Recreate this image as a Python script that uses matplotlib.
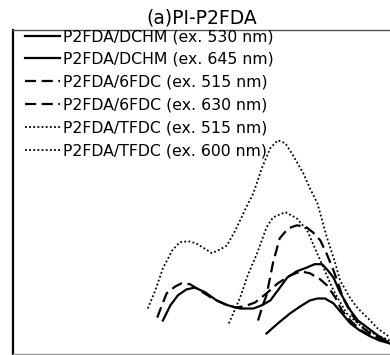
import matplotlib
matplotlib.use("Agg")
import matplotlib.pyplot as plt

plt.rcParams['font.family'] = ['DejaVu Sans']

title = "(a)PI-P2FDA"
labels = ["P2FDA/DCHM (ex. 530 nm)", "P2FDA/DCHM (ex. 645 nm)",
          "P2FDA/6FDC (ex. 515 nm)", "P2FDA/6FDC (ex. 630 nm)",
          "P2FDA/TFDC (ex. 515 nm)", "P2FDA/TFDC (ex. 600 nm)"]

# wavelength (nm) / relative intensity (a.u.)
dchm530_x = [559, 567, 575, 584, 593, 604, 616, 628, 641, 655, 664, 673, 681, 691, 701, 712,
             720, 728, 734, 740, 747, 758, 766, 776, 787, 800]
dchm530_y = [0.102, 0.149, 0.180, 0.198, 0.204, 0.189, 0.164, 0.149, 0.139, 0.139, 0.149, 0.164,
             0.195, 0.235, 0.254, 0.266, 0.276, 0.276, 0.257, 0.235, 0.189, 0.133, 0.102, 0.080,
             0.056, 0.031]

dchm645_x = [669, 681, 694, 705, 715, 723, 731, 740, 749, 758, 768, 779, 789, 800]
dchm645_y = [0.062, 0.093, 0.124, 0.146, 0.164, 0.170, 0.170, 0.155, 0.124, 0.093, 0.071, 0.053,
             0.040, 0.031]

f6_515_x = [553, 558, 563, 572, 579, 588, 598, 612, 625, 636, 646, 657, 669, 681, 694, 705, 715,
            726, 733, 742, 749, 758, 768, 779, 789, 800]
f6_515_y = [0.111, 0.149, 0.186, 0.207, 0.217, 0.214, 0.195, 0.170, 0.152, 0.142, 0.146, 0.158,
            0.186, 0.217, 0.241, 0.254, 0.248, 0.229, 0.211, 0.173, 0.133, 0.102, 0.074, 0.056,
            0.043, 0.034]

f6_630_x = [660, 665, 669, 676, 683, 692, 701, 710, 718, 726, 733, 740, 745, 750, 758, 768, 779,
            789, 800]
f6_630_y = [0.102, 0.149, 0.180, 0.282, 0.356, 0.387, 0.396, 0.393, 0.375, 0.350, 0.307, 0.257,
            0.217, 0.173, 0.127, 0.087, 0.062, 0.046, 0.037]

tf_515_x = [543, 551, 559, 569, 577, 586, 594, 603, 611, 620, 627, 636, 646, 655, 664, 673, 681,
            689, 697, 708, 715, 723, 733, 741, 747, 758, 766, 776, 787, 800]
tf_515_y = [0.139, 0.195, 0.263, 0.319, 0.344, 0.347, 0.341, 0.325, 0.310, 0.322, 0.334, 0.381,
            0.443, 0.495, 0.573, 0.635, 0.659, 0.650, 0.613, 0.557, 0.511, 0.464, 0.359, 0.288,
            0.226, 0.170, 0.139, 0.111, 0.077, 0.050]

tf_600_x = [629, 641, 649, 659, 669, 676, 689, 701, 712, 726, 740, 754, 766, 776, 787, 800]
tf_600_y = [0.093, 0.173, 0.241, 0.310, 0.390, 0.421, 0.437, 0.418, 0.381, 0.288, 0.195, 0.124,
            0.093, 0.071, 0.056, 0.040]

fig = plt.figure(figsize=(3.9, 3.55), dpi=100)
ax = fig.add_axes([13/390, 1.5/355, 1 - 13/390, (353.5 - 30)/355])

solid = dict(color='black', lw=1.6, linestyle='-')
dashed = dict(color='black', lw=1.6, linestyle=(0, (5, 2.5)))
dotted = dict(color='black', lw=1.3, linestyle=(0, (1, 1.3)))

ax.plot(dchm530_x, dchm530_y, label=labels[0], **solid)
ax.plot(dchm645_x, dchm645_y, label=labels[1], **solid)
ax.plot(f6_515_x, f6_515_y, label=labels[2], **dashed)
ax.plot(f6_630_x, f6_630_y, label=labels[3], **dashed)
ax.plot(tf_515_x, tf_515_y, label=labels[4], **dotted)
ax.plot(tf_600_x, tf_600_y, label=labels[5], **dotted)

ax.set_xlim(400, 800)
ax.set_ylim(0, 1)
ax.set_xticks([])
ax.set_yticks([])
ax.spines['right'].set_visible(False)
ax.spines['left'].set_linewidth(1.6)
ax.spines['top'].set_linewidth(1.0)
ax.spines['top'].set_color('#555555')
ax.spines['bottom'].set_linewidth(1.0)
ax.spines['bottom'].set_color('#999999')

ax.set_title(title, fontsize=13.5, pad=4.5)

leg = ax.legend(loc='upper left', bbox_to_anchor=(25/390, 326/355),
                bbox_transform=fig.transFigure, frameon=False, fontsize=11.3,
                borderpad=0, borderaxespad=0, labelspacing=0.5,
                handlelength=2.2, handletextpad=0.2)

fig.savefig('out.png', dpi=100)
